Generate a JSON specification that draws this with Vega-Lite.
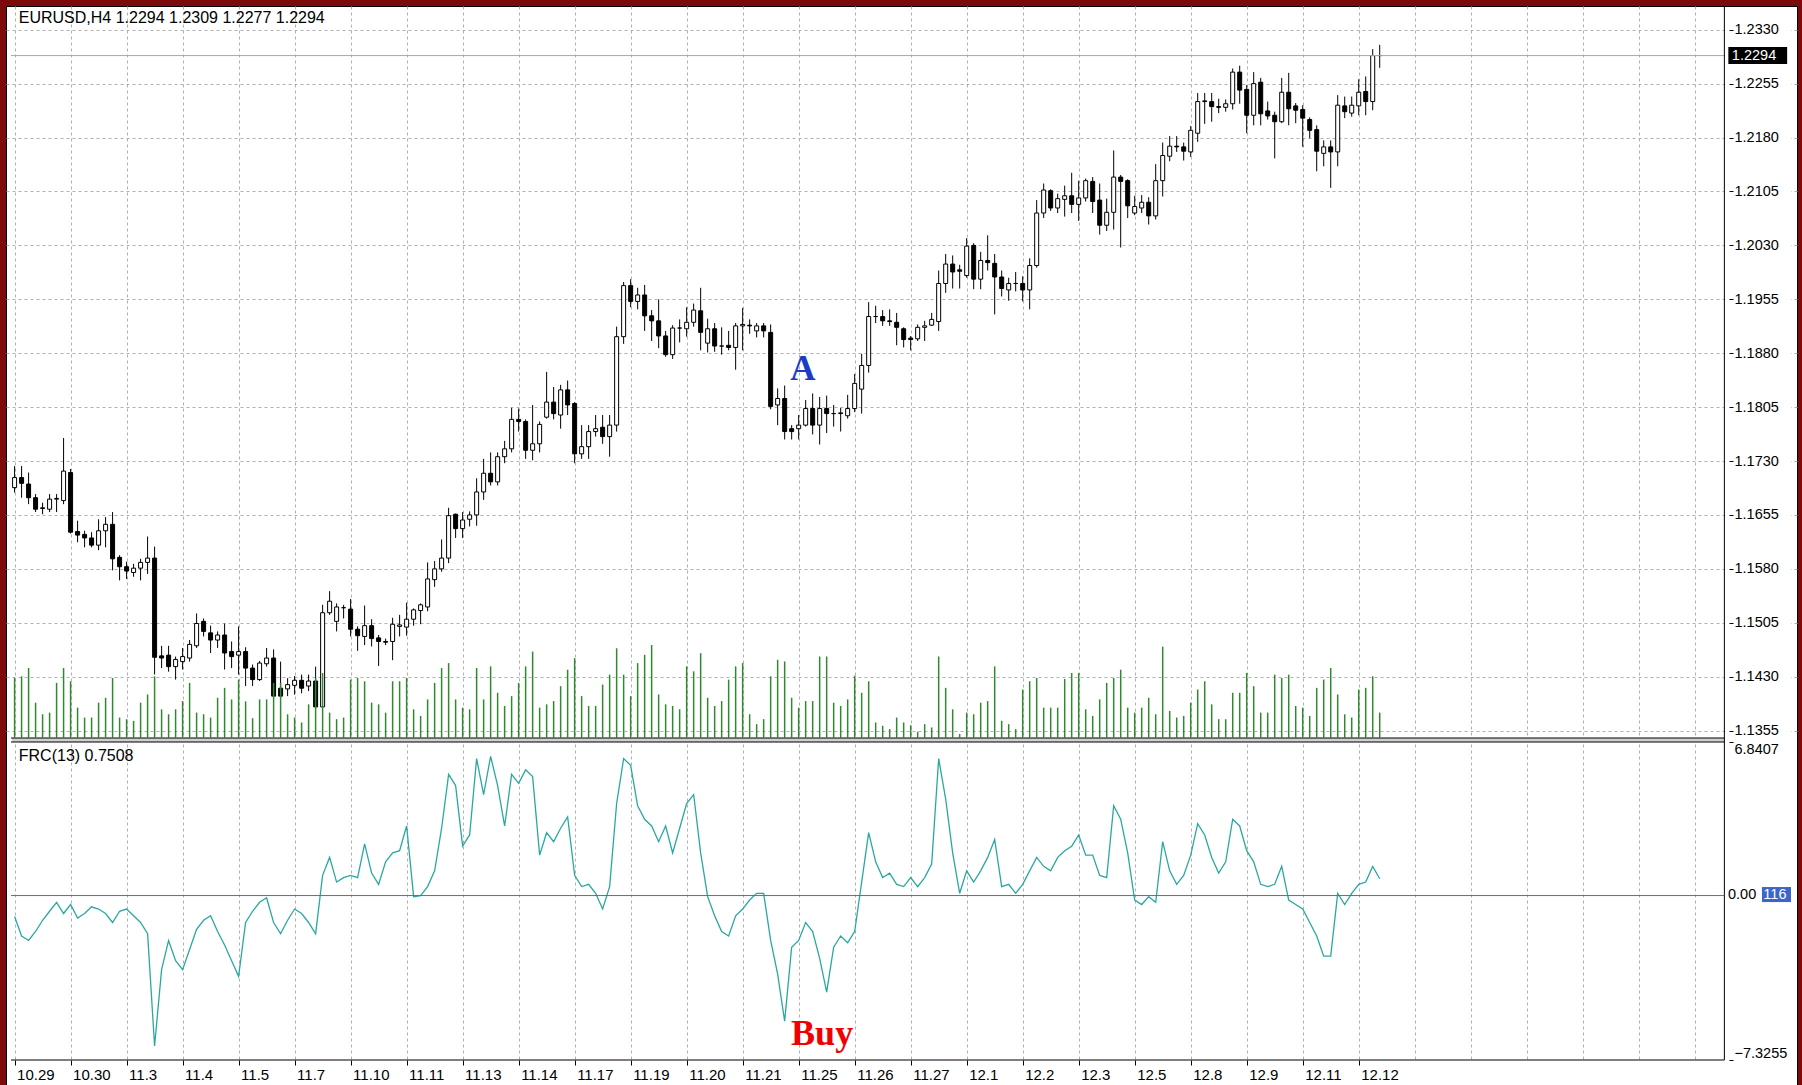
{
  "$schema": "https://vega.github.io/schema/vega-lite/v6.json",
  "background": "#7d0a0a",
  "padding": {"left": 6, "top": 5, "right": 5, "bottom": 0},
  "width": 1791,
  "height": 1080,
  "data": {"values": [
{"i":0,"o":1.1693,"h":1.1723,"l":1.1686,"c":1.1707,"v":1820,"f":-0.93},
{"i":1,"o":1.1707,"h":1.1723,"l":1.1679,"c":1.1699,"v":1870,"f":-1.8},
{"i":2,"o":1.1698,"h":1.1714,"l":1.1670,"c":1.1679,"v":2120,"f":-2.0},
{"i":3,"o":1.1679,"h":1.1684,"l":1.1659,"c":1.1663,"v":1070,"f":-1.6},
{"i":4,"o":1.1664,"h":1.1672,"l":1.1656,"c":1.1665,"v":720,"f":-1.1},
{"i":5,"o":1.1663,"h":1.1684,"l":1.1659,"c":1.1677,"v":770,"f":-0.7},
{"i":6,"o":1.1677,"h":1.1684,"l":1.1659,"c":1.1678,"v":1670,"f":-0.3},
{"i":7,"o":1.1675,"h":1.1762,"l":1.1670,"c":1.1716,"v":2120,"f":-0.8},
{"i":8,"o":1.1714,"h":1.1719,"l":1.1629,"c":1.1631,"v":1720,"f":-0.4},
{"i":9,"o":1.1632,"h":1.1647,"l":1.1617,"c":1.1627,"v":920,"f":-1.0},
{"i":10,"o":1.1628,"h":1.1633,"l":1.1610,"c":1.1623,"v":620,"f":-0.8},
{"i":11,"o":1.1623,"h":1.1631,"l":1.1610,"c":1.1613,"v":620,"f":-0.5},
{"i":12,"o":1.1613,"h":1.1649,"l":1.1606,"c":1.1633,"v":1070,"f":-0.6},
{"i":13,"o":1.1633,"h":1.1652,"l":1.1610,"c":1.1642,"v":1220,"f":-0.8},
{"i":14,"o":1.1642,"h":1.1659,"l":1.1578,"c":1.1594,"v":1820,"f":-1.2},
{"i":15,"o":1.1596,"h":1.1599,"l":1.1564,"c":1.1583,"v":620,"f":-0.7},
{"i":16,"o":1.1583,"h":1.1590,"l":1.1566,"c":1.1577,"v":570,"f":-0.6},
{"i":17,"o":1.1575,"h":1.1587,"l":1.1569,"c":1.1581,"v":520,"f":-0.9},
{"i":18,"o":1.1581,"h":1.1594,"l":1.1564,"c":1.1589,"v":1070,"f":-1.2},
{"i":19,"o":1.1589,"h":1.1625,"l":1.1573,"c":1.1595,"v":1320,"f":-1.7},
{"i":20,"o":1.1595,"h":1.1611,"l":1.1433,"c":1.1457,"v":1870,"f":-6.7},
{"i":21,"o":1.1459,"h":1.1473,"l":1.1442,"c":1.1456,"v":870,"f":-3.3},
{"i":22,"o":1.1460,"h":1.1473,"l":1.1437,"c":1.1444,"v":720,"f":-2.0},
{"i":23,"o":1.1444,"h":1.1458,"l":1.1426,"c":1.1454,"v":870,"f":-2.9},
{"i":24,"o":1.1451,"h":1.1470,"l":1.1440,"c":1.1458,"v":1120,"f":-3.3},
{"i":25,"o":1.1456,"h":1.1481,"l":1.1451,"c":1.1475,"v":1670,"f":-2.4},
{"i":26,"o":1.1473,"h":1.1518,"l":1.1470,"c":1.1504,"v":770,"f":-1.5},
{"i":27,"o":1.1507,"h":1.1511,"l":1.1486,"c":1.1493,"v":720,"f":-1.1},
{"i":28,"o":1.1491,"h":1.1501,"l":1.1463,"c":1.1481,"v":620,"f":-0.9},
{"i":29,"o":1.1481,"h":1.1493,"l":1.1470,"c":1.1488,"v":1220,"f":-1.6},
{"i":30,"o":1.1488,"h":1.1504,"l":1.1440,"c":1.1463,"v":1520,"f":-2.2},
{"i":31,"o":1.1465,"h":1.1479,"l":1.1442,"c":1.1458,"v":1170,"f":-2.9},
{"i":32,"o":1.1460,"h":1.1500,"l":1.1433,"c":1.1465,"v":1770,"f":-3.6},
{"i":33,"o":1.1465,"h":1.1471,"l":1.1417,"c":1.1442,"v":1110,"f":-1.2},
{"i":34,"o":1.1442,"h":1.1447,"l":1.1417,"c":1.1426,"v":600,"f":-0.7},
{"i":35,"o":1.1426,"h":1.1452,"l":1.1424,"c":1.1449,"v":1170,"f":-0.3},
{"i":36,"o":1.1448,"h":1.1470,"l":1.1444,"c":1.1456,"v":1170,"f":-0.1},
{"i":37,"o":1.1456,"h":1.1468,"l":1.1401,"c":1.1403,"v":1670,"f":-1.2},
{"i":38,"o":1.1414,"h":1.1451,"l":1.1401,"c":1.1403,"v":1670,"f":-1.7},
{"i":39,"o":1.1413,"h":1.1428,"l":1.1403,"c":1.1419,"v":720,"f":-1.1},
{"i":40,"o":1.1418,"h":1.1431,"l":1.1405,"c":1.1425,"v":620,"f":-0.6},
{"i":41,"o":1.1425,"h":1.1433,"l":1.1407,"c":1.1414,"v":470,"f":-0.8},
{"i":42,"o":1.1417,"h":1.1433,"l":1.1410,"c":1.1424,"v":1020,"f":-1.2},
{"i":43,"o":1.1424,"h":1.1444,"l":1.1387,"c":1.1388,"v":1820,"f":-1.7},
{"i":44,"o":1.1388,"h":1.1530,"l":1.1387,"c":1.1519,"v":1970,"f":0.9},
{"i":45,"o":1.1519,"h":1.1549,"l":1.1516,"c":1.1535,"v":770,"f":1.7},
{"i":46,"o":1.1507,"h":1.1532,"l":1.1493,"c":1.1527,"v":570,"f":0.6},
{"i":47,"o":1.1526,"h":1.1530,"l":1.1511,"c":1.1526,"v":620,"f":0.8},
{"i":48,"o":1.1524,"h":1.1538,"l":1.1486,"c":1.1496,"v":1770,"f":0.9},
{"i":49,"o":1.1496,"h":1.1500,"l":1.1466,"c":1.1487,"v":1820,"f":0.8},
{"i":50,"o":1.1486,"h":1.1529,"l":1.1474,"c":1.1501,"v":1720,"f":2.3},
{"i":51,"o":1.1501,"h":1.1510,"l":1.1472,"c":1.1483,"v":1070,"f":1.0},
{"i":52,"o":1.1484,"h":1.1488,"l":1.1445,"c":1.1479,"v":1020,"f":0.5},
{"i":53,"o":1.1479,"h":1.1483,"l":1.1474,"c":1.1478,"v":770,"f":1.5},
{"i":54,"o":1.1479,"h":1.1512,"l":1.1453,"c":1.1503,"v":1720,"f":1.9},
{"i":55,"o":1.1500,"h":1.1516,"l":1.1486,"c":1.1502,"v":1720,"f":2.0},
{"i":56,"o":1.1499,"h":1.1533,"l":1.1487,"c":1.1510,"v":1820,"f":3.1},
{"i":57,"o":1.1510,"h":1.1525,"l":1.1501,"c":1.1523,"v":870,"f":-0.05},
{"i":58,"o":1.1522,"h":1.1532,"l":1.1503,"c":1.1530,"v":670,"f":0.0},
{"i":59,"o":1.1527,"h":1.1589,"l":1.1521,"c":1.1566,"v":1170,"f":0.4},
{"i":60,"o":1.1565,"h":1.1591,"l":1.1555,"c":1.1580,"v":1670,"f":1.1},
{"i":61,"o":1.1580,"h":1.1621,"l":1.1576,"c":1.1595,"v":2120,"f":3.0},
{"i":62,"o":1.1595,"h":1.1665,"l":1.1588,"c":1.1654,"v":2270,"f":5.4},
{"i":63,"o":1.1656,"h":1.1657,"l":1.1623,"c":1.1636,"v":1170,"f":4.9},
{"i":64,"o":1.1636,"h":1.1659,"l":1.1623,"c":1.1648,"v":920,"f":2.2},
{"i":65,"o":1.1649,"h":1.1660,"l":1.1639,"c":1.1655,"v":870,"f":2.7},
{"i":66,"o":1.1655,"h":1.1706,"l":1.1640,"c":1.1687,"v":2120,"f":6.1},
{"i":67,"o":1.1687,"h":1.1733,"l":1.1676,"c":1.1713,"v":1170,"f":4.5},
{"i":68,"o":1.1713,"h":1.1742,"l":1.1696,"c":1.1701,"v":2170,"f":6.2},
{"i":69,"o":1.1701,"h":1.1742,"l":1.1696,"c":1.1736,"v":1370,"f":4.9},
{"i":70,"o":1.1736,"h":1.1758,"l":1.1727,"c":1.1747,"v":970,"f":3.1},
{"i":71,"o":1.1747,"h":1.1804,"l":1.1742,"c":1.1788,"v":1270,"f":5.4},
{"i":72,"o":1.1788,"h":1.1803,"l":1.1771,"c":1.1785,"v":1670,"f":5.0},
{"i":73,"o":1.1785,"h":1.1788,"l":1.1733,"c":1.1745,"v":2170,"f":5.6},
{"i":74,"o":1.1745,"h":1.1808,"l":1.1731,"c":1.1754,"v":2620,"f":5.3},
{"i":75,"o":1.1754,"h":1.1785,"l":1.1742,"c":1.1781,"v":920,"f":1.8},
{"i":76,"o":1.1791,"h":1.1854,"l":1.1789,"c":1.1812,"v":1020,"f":2.8},
{"i":77,"o":1.1812,"h":1.1833,"l":1.1788,"c":1.1796,"v":1120,"f":2.4},
{"i":78,"o":1.1794,"h":1.1836,"l":1.1775,"c":1.1829,"v":1570,"f":3.0},
{"i":79,"o":1.1829,"h":1.1842,"l":1.1794,"c":1.1808,"v":2070,"f":3.5},
{"i":80,"o":1.1810,"h":1.1812,"l":1.1727,"c":1.1740,"v":2420,"f":0.9},
{"i":81,"o":1.1740,"h":1.1780,"l":1.1733,"c":1.1750,"v":1270,"f":0.4},
{"i":82,"o":1.1750,"h":1.1780,"l":1.1733,"c":1.1771,"v":970,"f":0.5},
{"i":83,"o":1.1771,"h":1.1794,"l":1.1764,"c":1.1775,"v":970,"f":0.1},
{"i":84,"o":1.1777,"h":1.1794,"l":1.1754,"c":1.1764,"v":1620,"f":-0.6},
{"i":85,"o":1.1764,"h":1.1794,"l":1.1736,"c":1.1780,"v":1920,"f":0.4},
{"i":86,"o":1.1780,"h":1.1917,"l":1.1771,"c":1.1903,"v":2720,"f":4.1},
{"i":87,"o":1.1903,"h":1.1979,"l":1.1893,"c":1.1974,"v":1920,"f":6.1},
{"i":88,"o":1.1974,"h":1.1983,"l":1.1944,"c":1.1952,"v":1270,"f":5.8},
{"i":89,"o":1.1952,"h":1.1971,"l":1.1941,"c":1.1961,"v":2270,"f":4.0},
{"i":90,"o":1.1961,"h":1.1975,"l":1.1911,"c":1.1932,"v":2520,"f":3.4},
{"i":91,"o":1.1932,"h":1.1940,"l":1.1897,"c":1.1925,"v":2820,"f":3.1},
{"i":92,"o":1.1925,"h":1.1955,"l":1.1887,"c":1.1904,"v":1320,"f":2.4},
{"i":93,"o":1.1904,"h":1.1911,"l":1.1875,"c":1.1878,"v":1020,"f":3.1},
{"i":94,"o":1.1878,"h":1.1919,"l":1.1872,"c":1.1915,"v":970,"f":1.9},
{"i":95,"o":1.1915,"h":1.1927,"l":1.1895,"c":1.1915,"v":870,"f":3.0},
{"i":96,"o":1.1914,"h":1.1944,"l":1.1903,"c":1.1923,"v":2170,"f":4.1},
{"i":97,"o":1.1923,"h":1.1949,"l":1.1917,"c":1.1940,"v":2020,"f":4.5},
{"i":98,"o":1.1939,"h":1.1971,"l":1.1884,"c":1.1909,"v":2570,"f":1.9},
{"i":99,"o":1.1894,"h":1.1928,"l":1.1881,"c":1.1914,"v":1220,"f":-0.05},
{"i":100,"o":1.1914,"h":1.1922,"l":1.1882,"c":1.1890,"v":970,"f":-0.9},
{"i":101,"o":1.1890,"h":1.1916,"l":1.1878,"c":1.1890,"v":1120,"f":-1.6},
{"i":102,"o":1.1891,"h":1.1911,"l":1.1884,"c":1.1888,"v":1770,"f":-1.8},
{"i":103,"o":1.1888,"h":1.1922,"l":1.1857,"c":1.1918,"v":2170,"f":-0.9},
{"i":104,"o":1.1918,"h":1.1943,"l":1.1884,"c":1.1920,"v":2270,"f":-0.6},
{"i":105,"o":1.1919,"h":1.1927,"l":1.1907,"c":1.1918,"v":720,"f":-0.2},
{"i":106,"o":1.1911,"h":1.1922,"l":1.1902,"c":1.1918,"v":420,"f":0.1},
{"i":107,"o":1.1918,"h":1.1922,"l":1.1902,"c":1.1911,"v":570,"f":0.1},
{"i":108,"o":1.1909,"h":1.1920,"l":1.1802,"c":1.1806,"v":1870,"f":-2.0},
{"i":109,"o":1.1808,"h":1.1831,"l":1.1780,"c":1.1817,"v":2370,"f":-3.5},
{"i":110,"o":1.1817,"h":1.1835,"l":1.1760,"c":1.1771,"v":2320,"f":-5.6},
{"i":111,"o":1.1775,"h":1.1780,"l":1.1760,"c":1.1771,"v":1220,"f":-2.3},
{"i":112,"o":1.1775,"h":1.1794,"l":1.1760,"c":1.1780,"v":920,"f":-2.0},
{"i":113,"o":1.1780,"h":1.1815,"l":1.1778,"c":1.1803,"v":1120,"f":-1.2},
{"i":114,"o":1.1803,"h":1.1824,"l":1.1767,"c":1.1780,"v":1120,"f":-1.6},
{"i":115,"o":1.1780,"h":1.1819,"l":1.1753,"c":1.1803,"v":2470,"f":-2.8},
{"i":116,"o":1.1803,"h":1.1821,"l":1.1769,"c":1.1796,"v":2470,"f":-4.3},
{"i":117,"o":1.1796,"h":1.1808,"l":1.1778,"c":1.1796,"v":1070,"f":-2.3},
{"i":118,"o":1.1796,"h":1.1804,"l":1.1771,"c":1.1797,"v":970,"f":-1.8},
{"i":119,"o":1.1793,"h":1.1822,"l":1.1789,"c":1.1803,"v":1170,"f":-2.1},
{"i":120,"o":1.1803,"h":1.1851,"l":1.1798,"c":1.1838,"v":1890,"f":-1.6},
{"i":121,"o":1.1830,"h":1.1879,"l":1.1796,"c":1.1863,"v":1370,"f":0.6},
{"i":122,"o":1.1863,"h":1.1951,"l":1.1853,"c":1.1931,"v":1720,"f":2.8},
{"i":123,"o":1.1931,"h":1.1946,"l":1.1922,"c":1.1931,"v":470,"f":1.5},
{"i":124,"o":1.1931,"h":1.1940,"l":1.1918,"c":1.1925,"v":370,"f":0.8},
{"i":125,"o":1.1925,"h":1.1941,"l":1.1918,"c":1.1924,"v":270,"f":1.0},
{"i":126,"o":1.1923,"h":1.1936,"l":1.1891,"c":1.1916,"v":620,"f":0.5},
{"i":127,"o":1.1914,"h":1.1916,"l":1.1888,"c":1.1899,"v":470,"f":0.4},
{"i":128,"o":1.1901,"h":1.1904,"l":1.1884,"c":1.1899,"v":390,"f":0.8},
{"i":129,"o":1.1900,"h":1.1920,"l":1.1897,"c":1.1916,"v":190,"f":0.4},
{"i":130,"o":1.1916,"h":1.1925,"l":1.1897,"c":1.1918,"v":420,"f":0.8},
{"i":131,"o":1.1919,"h":1.1936,"l":1.1918,"c":1.1927,"v":320,"f":1.4},
{"i":132,"o":1.1924,"h":1.1995,"l":1.1911,"c":1.1977,"v":2470,"f":6.1},
{"i":133,"o":1.1977,"h":1.2018,"l":1.1964,"c":1.2004,"v":1520,"f":4.3},
{"i":134,"o":1.2004,"h":1.2016,"l":1.1970,"c":1.1993,"v":870,"f":1.9},
{"i":135,"o":1.1996,"h":1.2003,"l":1.1970,"c":1.1994,"v":120,"f":0.1},
{"i":136,"o":1.1988,"h":1.2040,"l":1.1985,"c":1.2029,"v":770,"f":1.1},
{"i":137,"o":1.2030,"h":1.2033,"l":1.1969,"c":1.1983,"v":720,"f":0.6},
{"i":138,"o":1.1983,"h":1.2021,"l":1.1969,"c":1.2009,"v":1070,"f":1.1},
{"i":139,"o":1.2009,"h":1.2044,"l":1.1995,"c":1.2006,"v":1120,"f":1.7},
{"i":140,"o":1.2005,"h":1.2018,"l":1.1934,"c":1.1986,"v":2170,"f":2.5},
{"i":141,"o":1.1986,"h":1.1995,"l":1.1959,"c":1.1970,"v":520,"f":0.4},
{"i":142,"o":1.1968,"h":1.1985,"l":1.1953,"c":1.1977,"v":420,"f":0.5},
{"i":143,"o":1.1977,"h":1.1993,"l":1.1966,"c":1.1977,"v":270,"f":0.1},
{"i":144,"o":1.1977,"h":1.1987,"l":1.1952,"c":1.1968,"v":1470,"f":0.5},
{"i":145,"o":1.1968,"h":1.2012,"l":1.1941,"c":1.2002,"v":1720,"f":1.1},
{"i":146,"o":1.2002,"h":1.2093,"l":1.1999,"c":1.2075,"v":1820,"f":1.7},
{"i":147,"o":1.2075,"h":1.2116,"l":1.2068,"c":1.2107,"v":920,"f":1.3},
{"i":148,"o":1.2106,"h":1.2108,"l":1.2078,"c":1.2082,"v":920,"f":1.1},
{"i":149,"o":1.2082,"h":1.2102,"l":1.2075,"c":1.2095,"v":920,"f":1.7},
{"i":150,"o":1.2094,"h":1.2113,"l":1.2070,"c":1.2099,"v":1790,"f":2.0},
{"i":151,"o":1.2099,"h":1.2131,"l":1.2075,"c":1.2087,"v":1970,"f":2.2},
{"i":152,"o":1.2087,"h":1.2120,"l":1.2064,"c":1.2096,"v":1970,"f":2.7},
{"i":153,"o":1.2096,"h":1.2123,"l":1.2091,"c":1.2120,"v":870,"f":1.8},
{"i":154,"o":1.2119,"h":1.2125,"l":1.2075,"c":1.2091,"v":670,"f":1.8},
{"i":155,"o":1.2093,"h":1.2116,"l":1.2045,"c":1.2058,"v":1170,"f":0.9},
{"i":156,"o":1.2058,"h":1.2095,"l":1.2050,"c":1.2076,"v":1670,"f":0.8},
{"i":157,"o":1.2076,"h":1.2162,"l":1.2052,"c":1.2125,"v":1820,"f":4.0},
{"i":158,"o":1.2125,"h":1.2128,"l":1.2027,"c":1.2119,"v":2070,"f":3.4},
{"i":159,"o":1.2120,"h":1.2122,"l":1.2068,"c":1.2085,"v":920,"f":1.9},
{"i":160,"o":1.2075,"h":1.2099,"l":1.2072,"c":1.2084,"v":770,"f":-0.2},
{"i":161,"o":1.2082,"h":1.2100,"l":1.2075,"c":1.2090,"v":920,"f":-0.4},
{"i":162,"o":1.2090,"h":1.2097,"l":1.2059,"c":1.2071,"v":1220,"f":-0.05},
{"i":163,"o":1.2071,"h":1.2143,"l":1.2066,"c":1.2120,"v":720,"f":-0.3},
{"i":164,"o":1.2120,"h":1.2173,"l":1.2098,"c":1.2155,"v":2770,"f":2.4},
{"i":165,"o":1.2154,"h":1.2182,"l":1.2147,"c":1.2168,"v":820,"f":1.1},
{"i":166,"o":1.2168,"h":1.2182,"l":1.2160,"c":1.2167,"v":620,"f":0.5},
{"i":167,"o":1.2167,"h":1.2173,"l":1.2148,"c":1.2161,"v":670,"f":0.9},
{"i":168,"o":1.2160,"h":1.2196,"l":1.2153,"c":1.2190,"v":1070,"f":1.8},
{"i":169,"o":1.2186,"h":1.2242,"l":1.2174,"c":1.2230,"v":1470,"f":3.2},
{"i":170,"o":1.2230,"h":1.2242,"l":1.2199,"c":1.2231,"v":1720,"f":2.7},
{"i":171,"o":1.2230,"h":1.2242,"l":1.2202,"c":1.2223,"v":1020,"f":1.7},
{"i":172,"o":1.2223,"h":1.2234,"l":1.2214,"c":1.2222,"v":570,"f":1.0},
{"i":173,"o":1.2222,"h":1.2233,"l":1.2216,"c":1.2227,"v":570,"f":1.5},
{"i":174,"o":1.2227,"h":1.2276,"l":1.2219,"c":1.2271,"v":1370,"f":3.4},
{"i":175,"o":1.2271,"h":1.2280,"l":1.2227,"c":1.2246,"v":1370,"f":3.1},
{"i":176,"o":1.2247,"h":1.2253,"l":1.2186,"c":1.2211,"v":1970,"f":2.0},
{"i":177,"o":1.2211,"h":1.2271,"l":1.2197,"c":1.2255,"v":1570,"f":1.5},
{"i":178,"o":1.2257,"h":1.2263,"l":1.2197,"c":1.2213,"v":770,"f":0.5},
{"i":179,"o":1.2217,"h":1.2230,"l":1.2205,"c":1.2210,"v":770,"f":0.4},
{"i":180,"o":1.2211,"h":1.2216,"l":1.2151,"c":1.2202,"v":1920,"f":0.5},
{"i":181,"o":1.2202,"h":1.2263,"l":1.2200,"c":1.2243,"v":1820,"f":1.3},
{"i":182,"o":1.2243,"h":1.2270,"l":1.2197,"c":1.2220,"v":1920,"f":-0.2},
{"i":183,"o":1.2224,"h":1.2228,"l":1.2200,"c":1.2218,"v":970,"f":-0.4},
{"i":184,"o":1.2219,"h":1.2225,"l":1.2167,"c":1.2207,"v":920,"f":-0.6},
{"i":185,"o":1.2205,"h":1.2208,"l":1.2179,"c":1.2190,"v":670,"f":-1.2},
{"i":186,"o":1.2191,"h":1.2197,"l":1.2133,"c":1.2161,"v":1520,"f":-1.8},
{"i":187,"o":1.2158,"h":1.2176,"l":1.2140,"c":1.2167,"v":1770,"f":-2.7},
{"i":188,"o":1.2167,"h":1.2176,"l":1.2110,"c":1.2160,"v":2120,"f":-2.7},
{"i":189,"o":1.2160,"h":1.2239,"l":1.2140,"c":1.2225,"v":1320,"f":0.1},
{"i":190,"o":1.2224,"h":1.2237,"l":1.2207,"c":1.2216,"v":720,"f":-0.4},
{"i":191,"o":1.2214,"h":1.2237,"l":1.2209,"c":1.2225,"v":620,"f":0.1},
{"i":192,"o":1.2224,"h":1.2261,"l":1.2211,"c":1.2243,"v":1470,"f":0.5},
{"i":193,"o":1.2244,"h":1.2265,"l":1.2211,"c":1.2230,"v":1520,"f":0.6},
{"i":194,"o":1.2230,"h":1.2303,"l":1.2218,"c":1.2294,"v":1870,"f":1.3},
{"i":195,"o":1.2294,"h":1.2309,"l":1.2277,"c":1.2294,"v":770,"f":0.7508}
  ]},
  "resolve": {"scale": {"y": "independent"}, "axis": {"x": "independent"}},
  "layer": [
    {
      "resolve": {"axis": {"y": "independent"}},
      "layer": [
        {
          "data": {"values": [{}]},
          "mark": {"type": "rect", "color": "#ffffff"},
          "encoding": {
            "x": {"datum": 244.233, "type": "quantitative", "axis": {"title": null}},
            "x2": {"datum": 253.75},
            "y": {"datum": 1.236158, "type": "quantitative", "axis": null},
            "y2": {"datum": 1.086206}
          }
        },
        {
          "data": {"values": [{}]},
          "mark": {"type": "rect", "color": "#d0d0d0"},
          "encoding": {
            "x": {"datum": -0.37, "type": "quantitative", "axis": {"title": null}},
            "x2": {"datum": 244.233},
            "y": {"datum": 1.134474, "type": "quantitative", "axis": null},
            "y2": {"datum": 1.133918}
          }
        },
        {
          "mark": {"type": "rule", "color": "#000000", "strokeWidth": 1},
          "encoding": {
            "x": {"field": "i", "type": "quantitative",
              "scale": {"domain": [-0.5114, 253.892], "nice": false, "zero": false},
              "axis": {"orient": "bottom", "zindex": 0, "values": [0,8,16,24,32,40,48,56,64,72,80,88,96,104,112,120,128,136,144,152,160,168,176,184,192,200,208,216,224,232,240],
                "labels": false, "ticks": false, "domain": false, "grid": true, "title": null}},
            "y": {"field": "l", "type": "quantitative",
              "scale": {"domain": [1.086067, 1.236297], "nice": false, "zero": false},
              "axis": {"orient": "right", "zindex": 0, "title": null, "grid": true, "labels": false, "ticks": false, "domain": false,
                "values": [1.1355,1.1430,1.1505,1.1580,1.1655,1.1730,1.1805,1.1880,1.1955,1.2030,1.2105,1.2180,1.2255,1.2330]}},
            "y2": {"field": "h"}
          }
        },
        {
          "mark": {"type": "bar", "width": 4, "stroke": "#000000", "strokeWidth": 1},
          "encoding": {
            "x": {"field": "i", "type": "quantitative", "axis": {"title": null}},
            "y": {"field": "o", "type": "quantitative",
              "axis": {"orient": "right", "offset": -68, "zindex": 1, "title": null, "format": ".4f", "grid": false, "domain": false,
                "values": [1.1355,1.1430,1.1505,1.1580,1.1655,1.1730,1.1805,1.1880,1.1955,1.2030,1.2105,1.2180,1.2255,1.2330],
                "tickSize": 4, "labelPadding": 1}},
            "y2": {"field": "c"},
            "fill": {"condition": {"test": "datum.c >= datum.o", "value": "#ffffff"}, "value": "#000000"}
          }
        },
        {
          "data": {"values": [{}]},
          "mark": {"type": "rule", "color": "#a8a8a8", "strokeWidth": 1},
          "encoding": {
            "x": {"datum": -0.5114, "type": "quantitative", "axis": {"title": null}},
            "x2": {"datum": 244.233},
            "y": {"datum": 1.2294, "type": "quantitative", "axis": null}
          }
        },
        {
          "data": {"values": [{}]},
          "mark": {"type": "rule", "color": "#000000", "strokeWidth": 1},
          "encoding": {
            "x": {"datum": 244.233, "type": "quantitative", "axis": {"title": null}},
            "y": {"datum": 1.236297, "type": "quantitative", "axis": null},
            "y2": {"datum": 1.089684}
          }
        },
        {
          "data": {"values": [{}]},
          "mark": {"type": "rule", "color": "#000000", "strokeWidth": 1},
          "encoding": {
            "x": {"datum": -0.5114, "type": "quantitative", "axis": {"title": null}},
            "x2": {"datum": 244.233},
            "y": {"datum": 1.134474, "type": "quantitative", "axis": null}
          }
        },
        {
          "data": {"values": [{}]},
          "mark": {"type": "rule", "color": "#000000", "strokeWidth": 1},
          "encoding": {
            "x": {"datum": -0.5114, "type": "quantitative", "axis": {"title": null}},
            "x2": {"datum": 244.233},
            "y": {"datum": 1.133918, "type": "quantitative", "axis": null}
          }
        },
        {
          "data": {"values": [{}]},
          "mark": {"type": "text", "text": "EURUSD,H4  1.2294 1.2309 1.2277 1.2294", "align": "left", "baseline": "middle", "font": "Liberation Sans", "fontSize": 16, "color": "#000000"},
          "encoding": {
            "x": {"datum": 0.6, "type": "quantitative", "axis": {"title": null}},
            "y": {"datum": 1.23463, "type": "quantitative", "axis": null}
          }
        },
        {
          "data": {"values": [{}]},
          "mark": {"type": "text", "text": "A", "align": "center", "baseline": "middle", "font": "Liberation Serif", "fontWeight": "bold", "fontSize": 35, "color": "#1a3cc8"},
          "encoding": {
            "x": {"datum": 112.6, "type": "quantitative", "axis": {"title": null}},
            "y": {"datum": 1.1858, "type": "quantitative", "axis": null}
          }
        },
        {
          "data": {"values": [{}]},
          "mark": {"type": "rect", "color": "#000000"},
          "encoding": {
            "x": {"datum": 244.8, "type": "quantitative", "axis": {"title": null}},
            "x2": {"datum": 253.2},
            "y": {"datum": 1.23059, "type": "quantitative", "axis": null},
            "y2": {"datum": 1.22823}
          }
        },
        {
          "data": {"values": [{}]},
          "mark": {"type": "text", "text": "1.2294", "align": "left", "baseline": "middle", "font": "Liberation Sans", "fontSize": 14.5, "color": "#ffffff"},
          "encoding": {
            "x": {"datum": 245.3, "type": "quantitative", "axis": {"title": null}},
            "y": {"datum": 1.2294, "type": "quantitative", "axis": null}
          }
        }
      ]
    },
    {
      "mark": {"type": "rule", "color": "#2f8a2f", "strokeWidth": 1.5},
      "encoding": {
        "x": {"field": "i", "type": "quantitative", "axis": null},
        "y": {"field": "v", "type": "quantitative", "scale": {"domain": [-10544, 22180], "nice": false, "zero": false}, "axis": null},
        "y2": {"datum": 0}
      }
    },
    {
      "layer": [
        {
          "data": {"values": [{}]},
          "mark": {"type": "rect", "color": "#ffffff"},
          "encoding": {
            "x": {"datum": -0.37, "type": "quantitative", "axis": {"title": null}},
            "x2": {"datum": 253.75},
            "y": {"datum": -7.3255, "type": "quantitative", "axis": {"title": null}},
            "y2": {"datum": -8.439}
          }
        },
        {
          "mark": {"type": "line", "color": "#2aa8a0", "strokeWidth": 1.3},
          "encoding": {
            "x": {"field": "i", "type": "quantitative",
              "axis": {"orient": "bottom", "offset": -26, "zindex": 1, "values": [0,8,16,24,32,40,48,56,64,72,80,88,96,104,112,120,128,136,144,152,160,168,176,184,192,200,208,216,224,232,240],
                "labelExpr": "['10.29','10.30','11.3','11.4','11.5','11.7','11.10','11.11','11.13','11.14','11.17','11.19','11.20','11.21','11.25','11.26','11.27','12.1','12.2','12.3','12.5','12.8','12.9','12.11','12.12'][round(datum.value/8)] || ''",
                "tickOpacity": {"condition": {"test": "datum.value > 192", "value": 0}, "value": 1},
                "labelAlign": "left", "labelOffset": 2, "labelPadding": 2, "labelFontSize": 15, "tickSize": 5, "grid": false, "title": null, "domain": false, "labelFlush": false, "labelOverlap": false}},
            "y": {"field": "f", "type": "quantitative",
              "scale": {"domain": [-8.4837, 39.6279], "nice": false, "zero": false},
              "axis": {"orient": "right", "offset": -68, "zindex": 1, "title": null, "values": [6.8407, -7.3255], "format": ".4f", "grid": false, "domain": false,
                "labelBaseline": {"condition": {"test": "datum.value > 0", "value": "top"}, "value": "bottom"},
                "tickSize": 4, "labelPadding": 1}}
          }
        },
        {
          "data": {"values": [{}]},
          "mark": {"type": "rule", "color": "#000000", "strokeWidth": 1},
          "encoding": {
            "x": {"datum": -0.5114, "type": "quantitative", "axis": {"title": null}},
            "x2": {"datum": 244.233},
            "y": {"datum": -7.3255, "type": "quantitative", "axis": {"title": null}}
          }
        },
        {
          "data": {"values": [{}]},
          "mark": {"type": "rule", "color": "#4a6fb8", "strokeWidth": 1},
          "encoding": {
            "x": {"datum": -0.5114, "type": "quantitative", "axis": {"title": null}},
            "x2": {"datum": 244.233},
            "y": {"datum": 0, "type": "quantitative", "axis": {"title": null}}
          }
        },
        {
          "data": {"values": [{}]},
          "mark": {"type": "text", "text": "FRC(13)  0.7508", "align": "left", "baseline": "middle", "font": "Liberation Sans", "fontSize": 16, "color": "#000000"},
          "encoding": {
            "x": {"datum": 0.6, "type": "quantitative", "axis": {"title": null}},
            "y": {"datum": 6.217, "type": "quantitative", "axis": {"title": null}}
          }
        },
        {
          "data": {"values": [{}]},
          "mark": {"type": "text", "text": "Buy", "align": "center", "baseline": "middle", "font": "Liberation Serif", "fontWeight": "bold", "fontSize": 36, "color": "#f00000"},
          "encoding": {
            "x": {"datum": 115.35, "type": "quantitative", "axis": {"title": null}},
            "y": {"datum": -6.17, "type": "quantitative", "axis": {"title": null}}
          }
        },
        {
          "data": {"values": [{}]},
          "mark": {"type": "text", "text": "0.00", "align": "left", "baseline": "middle", "font": "Liberation Sans", "fontSize": 14.5, "color": "#000000"},
          "encoding": {
            "x": {"datum": 244.75, "type": "quantitative", "axis": {"title": null}},
            "y": {"datum": 0.04, "type": "quantitative", "axis": {"title": null}}
          }
        },
        {
          "data": {"values": [{}]},
          "mark": {"type": "rect", "color": "#3a66cc"},
          "encoding": {
            "x": {"datum": 249.6, "type": "quantitative", "axis": {"title": null}},
            "x2": {"datum": 253.75},
            "y": {"datum": 0.38, "type": "quantitative", "axis": {"title": null}},
            "y2": {"datum": -0.29}
          }
        },
        {
          "data": {"values": [{}]},
          "mark": {"type": "text", "text": "116", "align": "left", "baseline": "middle", "font": "Liberation Sans", "fontSize": 14.5, "color": "#ffffff"},
          "encoding": {
            "x": {"datum": 249.8, "type": "quantitative", "axis": {"title": null}},
            "y": {"datum": 0.04, "type": "quantitative", "axis": {"title": null}}
          }
        }
      ]
    }
  ],
  "config": {
    "view": {"stroke": "#000000", "strokeWidth": 1, "fill": "#ffffff"},
    "axis": {"labelFont": "Liberation Sans", "labelFontSize": 14.5, "labelColor": "#000000",
      "gridColor": "#b0b0b0", "gridDash": [3, 3], "gridWidth": 1, "gridOpacity": 1,
      "tickColor": "#000000", "domainColor": "#000000"}
  }
}
